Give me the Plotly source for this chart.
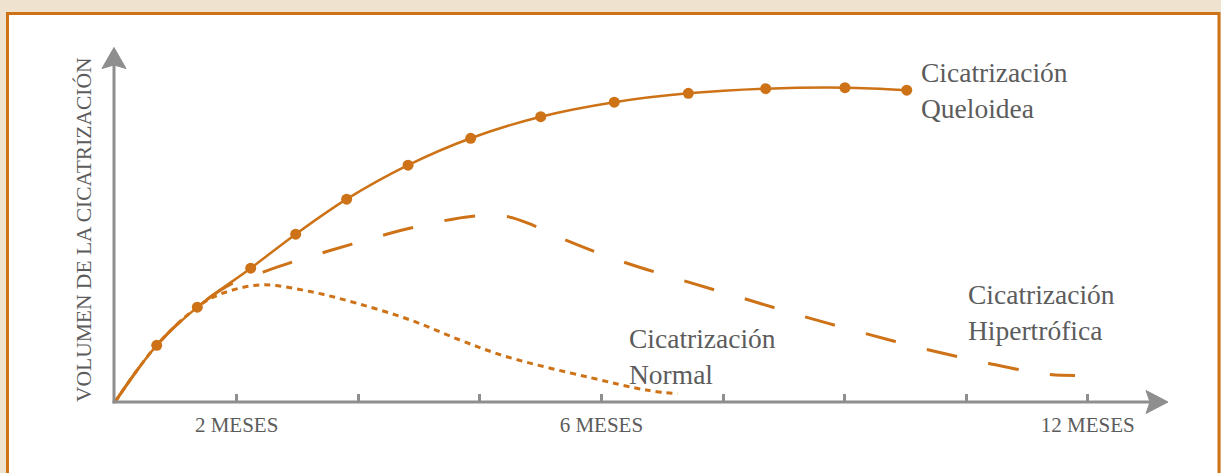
import plotly.graph_objects as go

# ---------------- data (x: tick units, y: relative volume 0-100) ----------------
keloid_x = [0, 0.343, 0.677, 1.116, 1.486, 1.905, 2.410, 2.925, 3.501, 4.106, 4.715, 5.351, 6.003, 6.511]
keloid_y = [0, 16.0, 26.8, 37.8, 47.4, 57.3, 66.9, 74.5, 80.6, 84.7, 87.2, 88.5, 88.8, 88.1]

hyper_x = [0, 0.345, 0.674, 0.970, 1.217, 1.456, 1.949, 2.442, 2.944, 3.224, 3.454, 3.701,
           4.169, 4.655, 5.156, 5.650, 6.143, 6.645, 7.146, 7.648, 7.895]
hyper_y = [0, 16.1, 26.8, 33.6, 36.7, 39.5, 44.6, 49.2, 52.5, 52.4, 49.7, 45.8,
           39.7, 34.5, 29.4, 24.3, 19.6, 15.1, 11.2, 7.9, 7.5]

normal_x = [0, 0.345, 0.724, 0.946, 1.217, 1.604, 1.988, 2.426, 2.837, 3.221, 3.906, 4.367, 4.630]
normal_y = [0, 16.1, 28.0, 31.4, 33.1, 31.2, 27.9, 23.2, 17.5, 12.8, 6.9, 3.4, 2.3]

tick_vals = [1, 2, 3, 4, 5, 6, 7, 8]
tick_text = ["2 MESES", "", "", "6 MESES", "", "", "", "12 MESES"]

y_title = "VOLUMEN DE LA CICATRIZACIÓN"
labels = [
    "Cicatrización<br>Queloidea",
    "Cicatrización<br>Hipertrófica",
    "Cicatrización<br>Normal",
]

# ---------------- style ----------------
ORANGE = "#CD7217"
GRAY = "#8E8E8E"
TEXT = "#5C5C5C"
BEIGE = "#EFE2CF"
FONT = "Liberation Serif"

W, H = 1221, 473
L, R, T, B = 115, 53, 48, 71
PW, PH = W - L - R, H - T - B

# long-dash pattern (31 on / 32 off) with a phase offset at the start
LONG_DASH = ",".join(["43px", "32px"] + ["31px", "32px"] * 22)


def pxx(px):
    return (px - L) / PW


def pxy(py):
    return (H - B - py) / PH


fig = go.Figure()

fig.add_trace(go.Scatter(
    x=normal_x, y=normal_y, mode="lines",
    line=dict(color=ORANGE, width=3, dash="6px,5px", shape="spline", smoothing=1.0),
    hoverinfo="skip", showlegend=False))

fig.add_trace(go.Scatter(
    x=hyper_x, y=hyper_y, mode="lines",
    line=dict(color=ORANGE, width=3, dash=LONG_DASH, shape="spline", smoothing=1.0),
    hoverinfo="skip", showlegend=False))

fig.add_trace(go.Scatter(
    x=keloid_x, y=keloid_y, mode="lines+markers",
    line=dict(color=ORANGE, width=2.5, shape="spline", smoothing=1.0),
    marker=dict(color=ORANGE, opacity=1, size=[0] + [11] * (len(keloid_x) - 1),
                line=dict(width=0)),
    hoverinfo="skip", showlegend=False))

shapes = []
# white panel with orange border
shapes.append(dict(type="rect", xref="paper", yref="paper", layer="below",
                   x0=pxx(7.5), x1=pxx(1219), y0=pxy(13.5), y1=pxy(490),
                   line=dict(color=ORANGE, width=3), fillcolor="white"))
# axes lines
shapes.append(dict(type="line", xref="paper", yref="paper",
                   x0=pxx(114), x1=pxx(114), y0=pxy(403.5), y1=pxy(64),
                   line=dict(color=GRAY, width=3)))
shapes.append(dict(type="line", xref="paper", yref="paper",
                   x0=pxx(112.5), x1=pxx(1150), y0=pxy(402), y1=pxy(402),
                   line=dict(color=GRAY, width=3)))


def tri(pts):
    return "M " + " L ".join(f"{pxx(a):.5f},{pxy(b):.5f}" for a, b in pts) + " Z"


# arrowheads
shapes.append(dict(type="path", xref="paper", yref="paper",
                   path=tri([(114, 47.5), (102, 68.5), (114, 65), (126, 68.5)]),
                   fillcolor=GRAY, line=dict(color=GRAY, width=1)))
shapes.append(dict(type="path", xref="paper", yref="paper",
                   path=tri([(1168, 402), (1146, 390.5), (1150, 402), (1146, 413.5)]),
                   fillcolor=GRAY, line=dict(color=GRAY, width=1)))

annotations = []
annotations.append(dict(text=y_title, xref="paper", yref="paper",
                        x=pxx(84), y=pxy(230), textangle=-90, showarrow=False,
                        xanchor="center", yanchor="middle",
                        font=dict(family=FONT, size=21.5, color=TEXT)))

label_pos = [(920, 90), (966.5, 312.5), (628, 356)]
for txt, (lx, ly) in zip(labels, label_pos):
    annotations.append(dict(text=txt, xref="paper", yref="paper",
                            x=pxx(lx), y=pxy(ly), showarrow=False, borderpad=0,
                            xanchor="left", yanchor="middle", align="left",
                            font=dict(family=FONT, size=27.5, color=TEXT)))

fig.update_layout(
    width=W, height=H,
    margin=dict(l=L, r=R, t=T, b=B),
    paper_bgcolor=BEIGE, plot_bgcolor="rgba(0,0,0,0)",
    shapes=shapes, annotations=annotations,
    xaxis=dict(range=[0, PW / 121.6], tickvals=tick_vals, ticktext=tick_text,
               ticks="inside", ticklen=8, tickwidth=2.5, tickcolor=GRAY,
               ticklabelstandoff=8,
               showline=False, showgrid=False, zeroline=False,
               tickfont=dict(family=FONT, size=21, color=TEXT)),
    yaxis=dict(range=[0, 100], showticklabels=False, ticks="", showline=False,
               showgrid=False, zeroline=False),
)

fig.write_html("out.html", config={"displayModeBar": False},
               post_script="document.body.style.margin='0px';document.body.style.padding='0px';")
